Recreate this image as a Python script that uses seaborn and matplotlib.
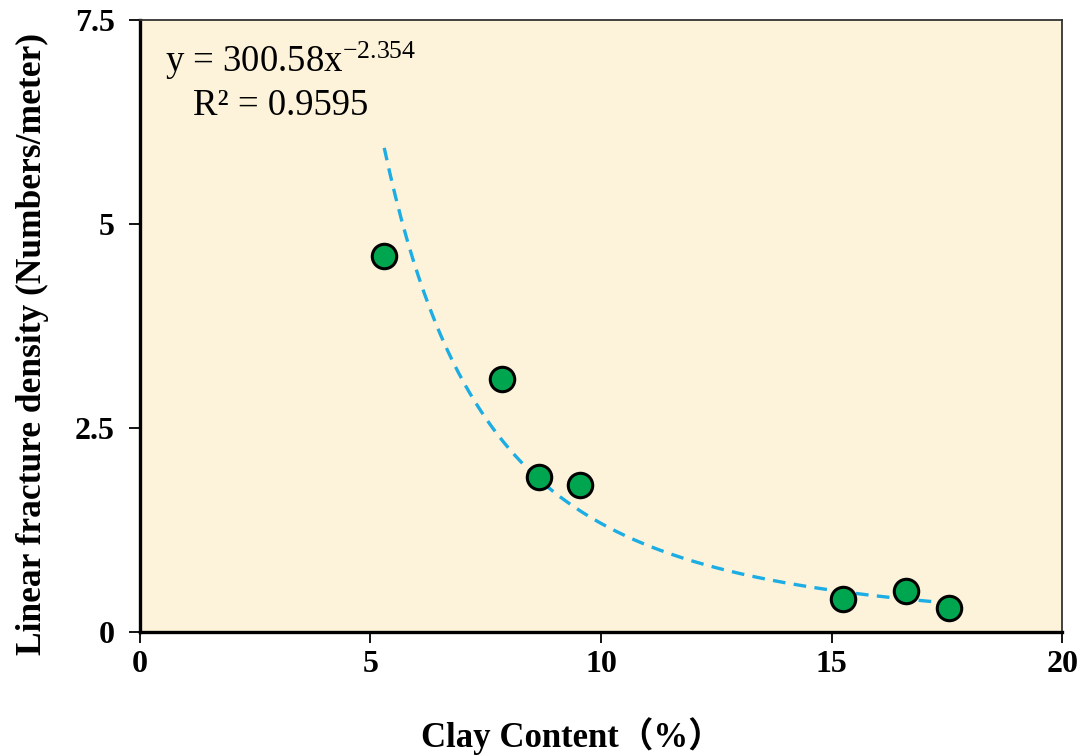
import numpy as np
import pandas as pd
import matplotlib
matplotlib.use("Agg")
import matplotlib.pyplot as plt
import seaborn as sns

# Measured samples
clay_content = [5.3, 7.85, 8.65, 9.55, 15.25, 16.6, 17.55]
fracture_density = [4.6, 3.1, 1.9, 1.8, 0.4, 0.5, 0.3]

# Power-law fit y = a * x^b
fit_a = 300.58
fit_b = -2.354
fit_r2 = 0.9595

x_ticks = [0, 5, 10, 15, 20]
y_ticks = [0, 2.5, 5, 7.5]
y_tick_labels = ["0", "2.5", "5", "7.5"]

sns.set_theme(style="white")
plt.rcParams["font.family"] = ["Liberation Serif", "Noto Sans CJK SC", "DejaVu Sans"]
plt.rcParams["mathtext.default"] = "regular"
for key in ["text.color", "axes.labelcolor", "xtick.color", "ytick.color"]:
    plt.rcParams[key] = "black"

df = pd.DataFrame({"clay": clay_content, "density": fracture_density})
xs = np.linspace(min(clay_content), max(clay_content), 200)
fit_df = pd.DataFrame({"clay": xs, "density": fit_a * xs ** fit_b})

fig = plt.figure(figsize=(10.83, 7.56), dpi=100)
ax = fig.add_axes([0.129, 0.164, 0.852, 0.810])
ax.set_facecolor("#FDF3DA")

sns.lineplot(data=fit_df, x="clay", y="density", ax=ax, color="#1CADE4",
             linewidth=2.4, linestyle=(0, (3.8, 2.5)), zorder=2)
sns.scatterplot(data=df, x="clay", y="density", ax=ax, s=310, color="#00A64F",
                edgecolor="black", linewidth=2.2, zorder=3)

ax.set_xlim(0, 20)
ax.set_ylim(0, 7.5)
ax.set_xticks(x_ticks)
ax.set_yticks(y_ticks)
ax.set_yticklabels(y_tick_labels)
ax.tick_params(axis="both", direction="out", length=8, width=1.3, color="black",
               labelcolor="black", labelsize=23, left=True, bottom=True)
ax.tick_params(axis="y", pad=10)
ax.tick_params(axis="x", pad=5)
for lab in ax.get_xticklabels() + ax.get_yticklabels():
    lab.set_fontweight("bold")

for side in ["left", "bottom"]:
    ax.spines[side].set_color("black")
    ax.spines[side].set_linewidth(2.4)
for side in ["top", "right"]:
    ax.spines[side].set_color("#333333")
    ax.spines[side].set_linewidth(1.3)

ax.set_xlabel("Clay Content（%）", fontsize=25, fontweight="bold", color="black")
ax.set_ylabel("Linear fracture density (Numbers/meter)", fontsize=25.5,
              fontweight="bold", color="black")
ax.xaxis.set_label_coords(0.468, -0.139)
ax.yaxis.set_label_coords(-0.116, 0.47)
ax.yaxis.label.set_va("center")

ax.text(0.027, 0.967, "y = %.2fx$^{%.3f}$" % (fit_a, fit_b), transform=ax.transAxes,
        fontsize=26.5, ha="left", va="top", color="black")
ax.text(0.058, 0.888, "R² = %.4f" % fit_r2, transform=ax.transAxes,
        fontsize=26.5, ha="left", va="top", color="black")

fig.savefig("out.png", dpi=100)
